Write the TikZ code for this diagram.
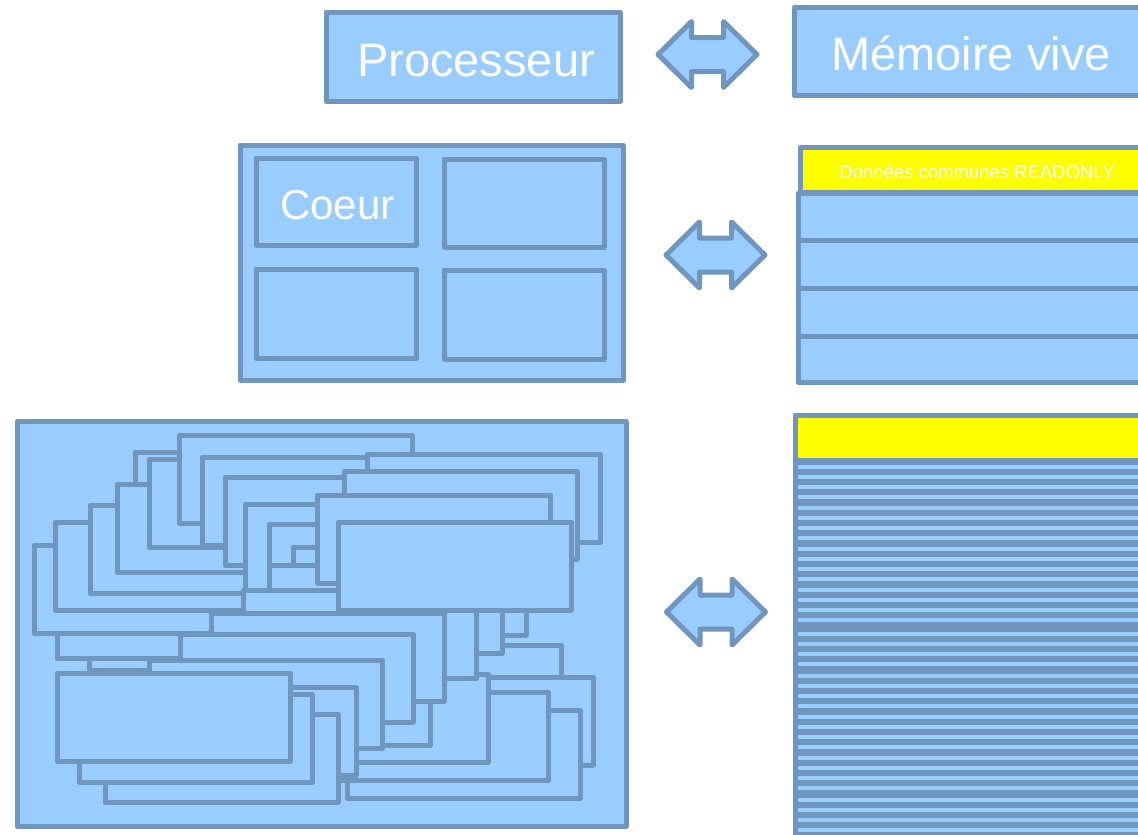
\documentclass[tikz,border=0pt]{standalone}
\usepackage{fontspec}
\setmainfont{Liberation Sans}
\definecolor{fillb}{RGB}{153,204,255}
\definecolor{lineb}{RGB}{112,150,190}
\definecolor{yel}{RGB}{255,255,0}
\begin{document}
\begin{tikzpicture}[x=1pt,y=-1pt,
  box/.style={draw=lineb,fill=fillb,line width=5pt,line join=round},
  ybox/.style={draw=lineb,fill=yel,line width=5pt,line join=round},
  big/.style={text=white,font=\fontsize{47}{50}\selectfont,inner sep=0pt,anchor=base},
  mid/.style={text=white,font=\fontsize{42}{45}\selectfont,inner sep=0pt,anchor=base},
  small/.style={text=white,font=\fontsize{18.5}{20}\selectfont,inner sep=0pt,anchor=base},
  dblarrow/.pic={\draw[box] (-49.5,0) -- (-16,-33) -- (-16,-17) -- (16,-17) -- (16,-33)
      -- (49.5,0) -- (16,33) -- (16,17) -- (-16,17) -- (-16,33) -- cycle;}
]
\useasboundingbox (0,0) rectangle (1138,835);
\clip (0,0) rectangle (1138,835);

% ---- row 1
\draw[box] (326,12) rectangle (620,101);
\node[big] (proc) at (476,76) {Processeur};
\pic (arr1) at (707.5,54.5) {dblarrow};
\draw[box] (794.25,7.25) rectangle (1160,95.75);
\node[big] (mem) at (971,70) {Mémoire vive};

% ---- row 2
\draw[box] (240,145) rectangle (623,380);
\draw[box] (256,158) rectangle (416.5,245);
\draw[box] (444,159) rectangle (604,247);
\draw[box] (256,269) rectangle (416.5,358);
\draw[box] (444,270) rectangle (604,359);
\node[mid] (coeur) at (337.5,219) {Coeur};
\pic (arr2) at (715.5,255) {dblarrow};
\draw[ybox] (800,147) rectangle (1160,192);
\node[small] (ro) at (977,178) {Données communes READONLY};
\foreach \a/\b in {193/240,240/288,288/336,336/382}
  \draw[box] (798,\a) rectangle (1160,\b);

% ---- row 3
\draw[box] (17,421) rectangle (626,826);
\foreach \x/\y in {87/580,55/568,133/450,32/543,53/520,88/503,115/482,147/457,
  177/433,200/455,223/475,243/502,267/522,291/545,326/643,267/563,358/675,
  345/708,313/690,253/672,241/588,195/655,209/611,178/632,365/452,342/469,
  315/493,336/520,147/658,121/685,103/712,77/692,55/671}
  \draw[box] ({\x+2.2},{\y+2.2}) rectangle ++(233,88);
\pic (arr3) at (716,612) {dblarrow};
\fill[lineb] (793,458) rectangle (1160,840);
\draw[ybox] (795,415) rectangle (1160,460);
\foreach \s in {466.7,507.7,549,590,634.3,675.7,717,758.3,799.7}
  \foreach \k in {0,1,2,3}
    \fill[fillb] (797.5,{\s+10*\k-1.9}) rectangle (1160,{\s+10*\k+1.9});
\end{tikzpicture}
\end{document}
